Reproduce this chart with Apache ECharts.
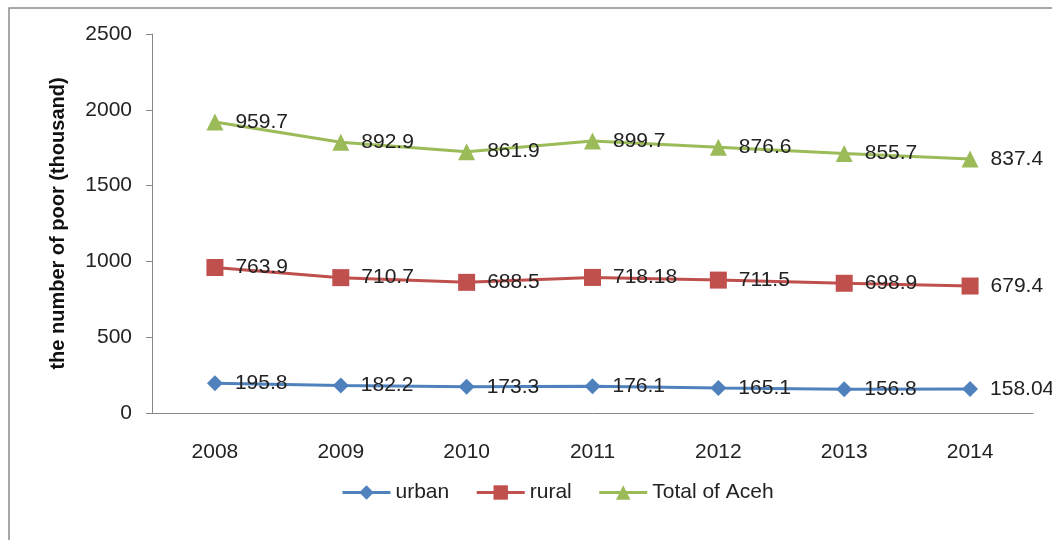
<!DOCTYPE html>
<html>
<head>
<meta charset="utf-8">
<script src="https://cdn.jsdelivr.net/npm/echarts@6/dist/echarts.min.js"></script>
<style>html,body{margin:0;padding:0;background:#fff;}#c{width:1052px;height:540px;}</style>
</head>
<body>
<div id="c"></div>
<script>
var years = ['2008','2009','2010','2011','2012','2013','2014'];
var urban = [195.8, 182.2, 173.3, 176.1, 165.1, 156.8, 158.04];
var rural = [763.9, 710.7, 688.5, 718.18, 711.5, 698.9, 679.4];
var total = [959.7, 892.9, 861.9, 899.7, 876.6, 855.7, 837.4];
var yTicks = [0, 500, 1000, 1500, 2000, 2500];

var FONT = '"Liberation Sans", Arial, sans-serif';
var FS = 21;
var chart = echarts.init(document.getElementById('c'), null, {renderer: 'canvas'});

function mk(name, data, color, symbol, size) {
  return {
    name: name, type: 'line', stack: 'all', data: data,
    symbol: symbol, symbolSize: size,
    lineStyle: {color: color, width: 3},
    itemStyle: {color: color},
    label: {show: true, position: 'right', distance: 12, color: '#222', fontSize: FS, fontFamily: FONT,
      formatter: function (p) { return String(p.value); }},
    emphasis: {disabled: true},
    animation: false
  };
}

chart.setOption({
  animation: false,
  backgroundColor: '#fff',
  textStyle: {fontFamily: FONT},
  graphic: [{type: 'rect', shape: {x: 9, y: 8, width: 1060, height: 560},
    style: {fill: 'none', stroke: '#8c8c8c', lineWidth: 1.5}, silent: true}],
  grid: {left: 152, right: 19, top: 34, bottom: 127, containLabel: false},
  legend: {
    bottom: 32, left: 336, itemWidth: 48, itemHeight: 18, itemGap: 26,
    lineStyle: {width: 3},
    textStyle: {fontSize: FS, color: '#222', fontFamily: FONT},
    data: ['urban', 'rural', 'Total of Aceh']
  },
  xAxis: {
    type: 'category', data: years, boundaryGap: true,
    axisLine: {lineStyle: {color: '#888', width: 1}},
    axisTick: {show: false},
    axisLabel: {fontSize: FS, color: '#222', margin: 29, fontFamily: FONT}
  },
  yAxis: {
    type: 'value', min: yTicks[0], max: yTicks[yTicks.length - 1], interval: 500,
    name: 'the number of poor (thousand)', nameLocation: 'middle', nameGap: 84, nameRotate: 90,
    nameTextStyle: {fontSize: 20, fontWeight: 'bold', color: '#111', fontFamily: FONT},
    axisLine: {show: true, lineStyle: {color: '#888', width: 1}},
    axisTick: {show: true, length: 6, lineStyle: {color: '#888'}},
    splitLine: {show: false},
    axisLabel: {fontSize: FS, color: '#222', margin: 20, fontFamily: FONT,
      formatter: function (v) { return String(v); }}
  },
  series: [
    mk('urban', urban, '#4F81BD', 'diamond', 16),
    mk('rural', rural, '#C0504D', 'rect', 17),
    mk('Total of Aceh', total, '#9BBB59', 'triangle', 17)
  ]
});
</script>
</body>
</html>
